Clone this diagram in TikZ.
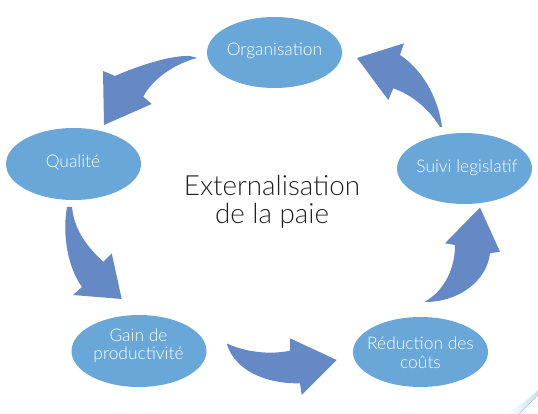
\documentclass[tikz,border=0pt]{standalone}
\usepackage{fontspec}
\IfFontExistsTF{Lato Light}{\setmainfont{Lato Light}}{\setmainfont{Lato}}
\usetikzlibrary{shapes.geometric}
\definecolor{ellc}{HTML}{69A7D9}
\definecolor{arrc}{HTML}{6589C4}
\definecolor{titc}{HTML}{222222}
\definecolor{swc}{HTML}{BFE4F6}
\begin{document}
\begin{tikzpicture}[x=1pt,y=-1pt,
  ell/.style={ellipse, fill=ellc, draw=none, inner sep=0pt},
  lbl/.style={text=white, font=\fontsize{17.4}{18.3}\selectfont, align=center, inner sep=0pt},
  blockarrow/.style={fill=arrc, draw=none},
  titlestyle/.style={text=titc, font=\fontsize{27.8}{28}\selectfont, align=center, inner sep=0pt}]
\useasboundingbox (0,0) rectangle (538,414);

% decorative swoosh
\shade[left color=white, right color=swc] (506,414) .. controls (520,405) and (530,398) .. (538,390) -- (538,395) -- (519,414) -- cycle;
\draw[gray!50, line width=0.4pt] (519,414) -- (538,395);

% ellipses
\node[ell, minimum width=135pt, minimum height=71pt] (org) at (274.5,52.5) {};
\node[ell, minimum width=135pt, minimum height=72pt] (qual) at (73.5,164) {};
\node[ell, minimum width=135pt, minimum height=71pt] (suivi) at (464.5,168.5) {};
\node[ell, minimum width=135pt, minimum height=72pt] (gain) at (139,351) {};
\node[ell, minimum width=135pt, minimum height=70pt] (reduc) at (420.5,352) {};

% labels
\node[lbl, anchor=base] (orgt) at (274.5,55.7) {Organisation};
\node[lbl, anchor=base] (qualt) at (73,167.5) {Qualité};
\node[lbl, anchor=base] (suivit) at (467,172.5) {Suivi legislatif};
\node[lbl] (gaint) at (138.5,346) {Gain de\\productivité};
\node[lbl] (reduct) at (420.5,352.8) {Réduction des\\coûts};

% title
\node[titlestyle] (title) at (272,201.5) {Externalisation\\de la paie};

% arrow Organisation -> Qualite
\fill[blockarrow] (190,56) .. controls (170,55) and (135,67) .. (115,76)
  -- (103,71) -- (104,125) -- (151.7,104) -- (143.3,96.7)
  .. controls (150,83) and (170,65) .. (197,58) -- cycle;
% arrow Suivi -> Organisation
\fill[blockarrow] (357,58) -- (404,43.3) -- (400,55)
  .. controls (420,68) and (438,95) .. (442,127)
  -- (440,127) .. controls (428,108) and (412,95) .. (393.3,88.3)
  -- (388.3,100) -- cycle;
% arrow Qualite -> Gain
\fill[blockarrow] (67,207) .. controls (62,235) and (68,268) .. (82,287)
  -- (73,295) -- (121.7,299) -- (111.7,253.3) -- (103.3,261.7)
  .. controls (85,245) and (74,228) .. (72,207) -- cycle;
% arrow Gain -> Reduction
\fill[blockarrow] (227,343.5) .. controls (245,352) and (270,355) .. (290,350.7)
  -- (290,338.3) -- (336.7,360) -- (301.7,395) -- (300,383.3)
  .. controls (265,384) and (235,370) .. (227,344.5) -- cycle;
% arrow Reduction -> Suivi
\fill[blockarrow] (425,301.7) .. controls (445,290) and (455,268) .. (455,245)
  -- (445,243.3) -- (480,207.5) -- (500,251.7) -- (490,253.3)
  .. controls (487,280) and (460,302) .. (425,302) -- cycle;
\end{tikzpicture}
\end{document}
